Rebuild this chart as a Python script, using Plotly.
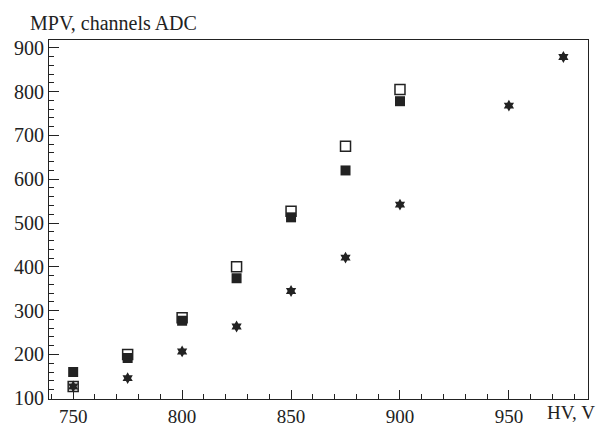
import plotly.graph_objects as go

# High voltage settings (V) and measured most probable values (ADC channels)
hv = [750, 775, 800, 825, 850, 875, 900]
mpv_open = [127, 200, 284, 400, 527, 675, 805]
mpv_filled = [160, 192, 277, 374, 513, 620, 778]

hv_star = [750, 775, 800, 825, 850, 875, 900, 950, 975]
mpv_star = [127, 146, 207, 264, 345, 421, 542, 768, 879]

x_ticks = [750, 800, 850, 900, 950]
y_ticks = [100, 200, 300, 400, 500, 600, 700, 800, 900]

ink = "#222222"
serif = "Liberation Serif"

fig = go.Figure()
fig.add_trace(go.Scatter(
    x=hv, y=mpv_filled, mode="markers",
    marker=dict(symbol="square", size=10, color=ink, line=dict(width=0)),
))
fig.add_trace(go.Scatter(
    x=hv, y=mpv_open, mode="markers",
    marker=dict(symbol="square-open", size=10, color=ink, line=dict(width=1.5, color=ink)),
))
fig.add_trace(go.Scatter(
    x=hv_star, y=mpv_star, mode="markers",
    marker=dict(symbol="hexagram", size=9, color=ink, line=dict(width=0)),
))

fig.update_layout(
    width=597, height=427,
    margin=dict(l=49, r=8.5, t=39.5, b=28),
    paper_bgcolor="white", plot_bgcolor="white",
    showlegend=False,
    font=dict(family=serif, size=20, color=ink),
    xaxis=dict(
        range=[738.9, 986.3], tickvals=x_ticks, ticks="inside", ticklen=9,
        tickwidth=1, tickcolor=ink, showgrid=False, zeroline=False,
        showline=True, linecolor=ink, linewidth=1, mirror=True,
        minor=dict(dtick=10, tick0=750, ticks="inside", ticklen=5, tickcolor=ink, showgrid=False),
        tickfont=dict(family=serif, size=19, color=ink),
        ticklabelstandoff=0, automargin=False,
    ),
    yaxis=dict(
        range=[98.4, 917.7], tickvals=y_ticks, ticks="inside", ticklen=10,
        tickwidth=1, tickcolor=ink, showgrid=False, zeroline=False,
        showline=True, linecolor=ink, linewidth=1, mirror=True,
        minor=dict(dtick=20, tick0=100, ticks="inside", ticklen=5, tickcolor=ink, showgrid=False),
        tickfont=dict(family=serif, size=20, color=ink),
        automargin=False,
    ),
    annotations=[
        dict(text="MPV, channels ADC", xref="paper", yref="paper",
             x=-0.039, y=1.0, xanchor="left", yanchor="bottom", yshift=4,
             showarrow=False, font=dict(family=serif, size=20, color=ink)),
        dict(text="HV, V", xref="paper", yref="paper",
             x=1.016, y=0, xanchor="right", yanchor="top", yshift=-1,
             showarrow=False, font=dict(family=serif, size=19, color=ink)),
    ],
)

fig.write_html("out.html")
